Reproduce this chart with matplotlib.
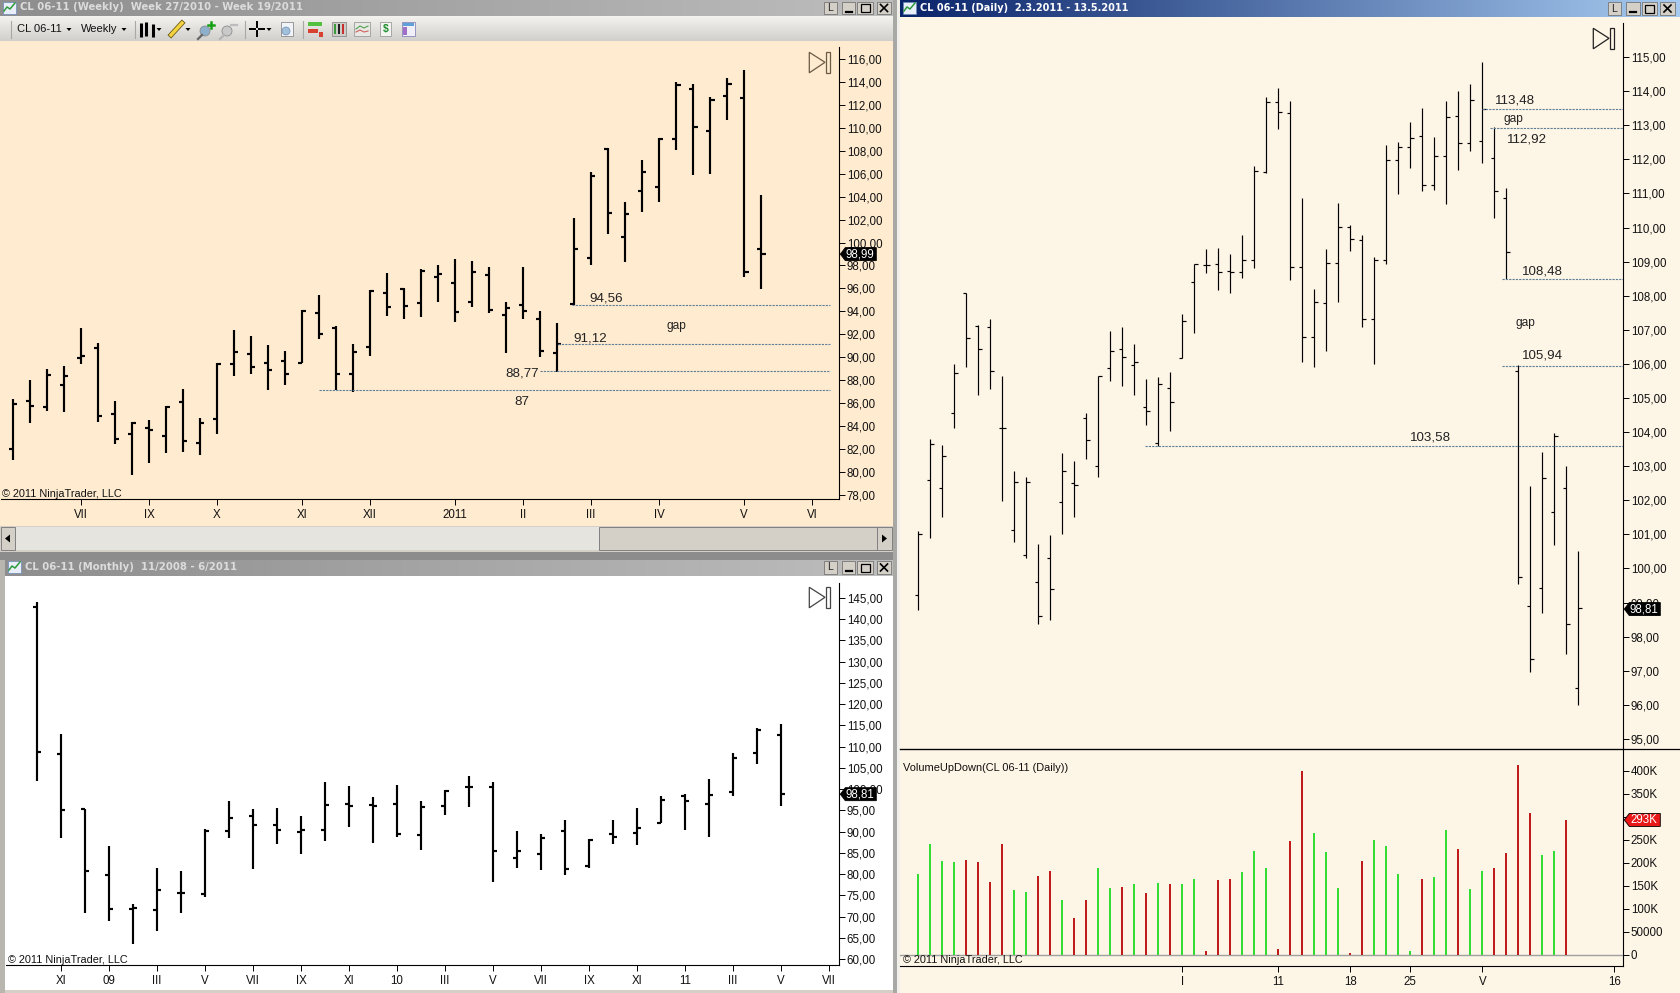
import numpy as np
import matplotlib
matplotlib.use("Agg")
import matplotlib.pyplot as plt
from matplotlib.patches import Rectangle, Polygon, Circle

plt.rcParams['font.family'] = ['Liberation Sans', 'DejaVu Sans']

W, H = 1680, 993

# ================= WEEKLY DATA =================
wk_open = [81.99, 86.18, 85.65, 87.57, 89.93, 90.80, 85.04, 83.30, 83.82, 83.12, 86.09, 82.51, 84.61, 89.40, 90.27,
           89.49, 89.66, 89.49, 93.85, 92.57, 88.53, 90.88, 95.59, 95.94, 94.72, 96.99, 96.50, 94.81, 97.19, 93.68,
           94.55, 93.33, 90.36, 94.63, 98.64, 108.15, 100.47, 104.48, 104.83, 109.02, 113.38, 109.72, 112.77, 112.59, 99.42]
wk_high = [86.32, 88.00, 88.97, 89.23, 92.54, 91.23, 86.18, 84.34, 84.52, 85.74, 87.22, 84.69, 89.49, 92.37, 91.84,
           91.06, 90.54, 94.11, 95.42, 92.72, 91.15, 95.86, 97.34, 96.03, 97.70, 98.00, 98.56, 98.39, 97.87, 94.81,
           97.90, 94.02, 92.98, 102.13, 106.11, 108.23, 103.52, 107.19, 109.10, 113.99, 113.81, 112.68, 114.34, 115.04, 104.13]
wk_low = [81.03, 84.26, 85.30, 85.22, 89.40, 84.34, 82.43, 79.72, 80.77, 81.64, 81.73, 81.47, 83.30, 88.36, 88.53,
          87.13, 87.57, 89.49, 91.58, 87.13, 86.96, 90.10, 93.59, 93.33, 93.50, 94.80, 93.10, 94.40, 93.82, 90.36,
          93.33, 90.01, 88.73, 94.55, 98.03, 100.73, 98.29, 102.65, 103.52, 108.06, 105.88, 105.97, 110.67, 97.02, 95.94]
wk_close = [85.91, 85.74, 88.44, 88.36, 90.10, 84.87, 82.86, 84.26, 83.65, 85.62, 82.69, 84.26, 89.40, 90.45, 89.14,
            88.88, 88.53, 94.05, 92.02, 88.53, 90.45, 95.77, 94.37, 94.46, 97.50, 97.25, 93.97, 97.45, 94.11, 94.29,
            94.02, 90.54, 91.15, 99.42, 105.82, 102.56, 102.48, 106.14, 109.02, 113.73, 110.06, 112.42, 113.81, 97.40, 98.99]
wk_yticks = list(range(78, 118, 2))
wk_xticks = [4, 8, 12, 17, 21, 26, 30, 34, 38, 43, 47]
wk_xlabels = ['VII', 'IX', 'X', 'XI', 'XII', '2011', 'II', 'III', 'IV', 'V', 'VI']
wk_levels = [87.1, 88.77, 91.12, 94.56]
wk_level_start = [18, 31, 32.05, 32.86]
wk_level_end = 48.06

# ================= MONTHLY DATA =================
mo_open = [142.88, 108.27, 95.32, 79.77, 71.77, 71.53, 75.54, 75.30, 90.13, 93.67, 91.55, 89.90, 90.37, 96.49, 96.26,
           96.49, 89.19, 96.02, 100.50, 100.50, 83.78, 84.72, 90.13, 81.89, 89.43, 89.66, 92.02, 98.38, 96.49, 99.32, 108.50, 112.74]
mo_high = [144.06, 112.98, 95.32, 86.60, 72.95, 81.42, 80.72, 90.61, 97.20, 95.32, 95.55, 93.67, 101.67, 100.73, 98.14,
           100.97, 97.20, 99.79, 103.09, 101.67, 90.13, 89.43, 92.73, 88.17, 92.73, 95.55, 98.38, 98.77, 102.38, 108.50, 114.47, 115.33]
mo_low = [101.91, 88.49, 70.83, 68.94, 63.53, 66.59, 70.83, 74.59, 88.49, 81.19, 87.07, 84.72, 87.78, 91.08, 87.31,
          88.72, 85.66, 93.90, 95.79, 78.13, 81.42, 80.95, 79.77, 81.42, 87.07, 86.84, 91.94, 90.37, 88.72, 98.38, 105.91, 96.02]
mo_close = [108.74, 95.08, 80.72, 71.77, 72.00, 76.24, 75.54, 90.13, 93.20, 91.55, 90.37, 90.37, 96.26, 96.02, 96.02,
            89.43, 95.79, 99.56, 100.50, 85.43, 85.43, 88.57, 81.19, 88.02, 88.72, 90.84, 97.43, 97.20, 98.61, 107.33, 113.92, 98.81]
mo_yticks = list(range(60, 150, 5))
mo_xticks = [1, 3, 5, 7, 9, 11, 13, 15, 17, 19, 21, 23, 25, 27, 29, 31, 33]
mo_xlabels = ['XI', '09', 'III', 'V', 'VII', 'IX', 'XI', '10', 'III', 'V', 'VII', 'IX', 'XI', '11', 'III', 'V', 'VII']

# ================= DAILY DATA =================
d_open = [99.22, 102.59, 102.35, 104.55, 108.07, 107.11, 107.07, 104.11, 101.12, 100.41, 99.59, 100.30, 101.94, 102.50,
          104.40, 103.02, 105.87, 106.43, 105.96, 104.75, 103.69, 105.28, 106.16, 108.41, 108.89, 108.92, 108.74, 108.71,
          109.04, 111.63, 113.67, 113.35, 108.83, 106.78, 107.80, 108.95, 110.01, 109.63, 107.31, 109.06, 111.97, 112.36,
          112.68, 111.24, 112.10, 113.26, 112.47, 112.53, 112.03, 110.88, 105.79, 98.89, 99.42, 101.67, 102.35, 96.48]
d_high = [101.10, 103.80, 103.62, 106.00, 108.07, 107.13, 107.31, 105.64, 102.86, 102.68, 100.72, 100.98, 103.39, 103.15,
          104.55, 105.66, 106.96, 107.08, 106.58, 105.56, 105.61, 105.76, 107.46, 108.92, 109.37, 109.40, 109.22, 109.78,
          111.80, 113.83, 114.09, 113.71, 110.86, 108.19, 109.37, 110.72, 110.07, 109.78, 109.13, 112.42, 112.51, 113.09,
          113.50, 112.65, 113.71, 114.00, 114.21, 114.85, 112.95, 111.16, 105.96, 102.42, 103.41, 103.97, 103.00, 100.51]
d_low = [98.78, 100.89, 101.51, 104.12, 105.92, 105.09, 105.27, 101.99, 100.78, 100.31, 98.37, 98.49, 101.01, 101.51,
         103.21, 102.68, 105.50, 105.35, 105.09, 104.21, 103.59, 104.03, 106.16, 106.90, 108.66, 108.17, 108.08, 108.52,
         108.81, 111.59, 112.89, 108.46, 106.05, 105.91, 106.38, 107.81, 109.31, 107.08, 106.00, 108.93, 110.98, 111.74,
         111.07, 111.10, 110.69, 111.68, 112.24, 111.89, 110.28, 108.48, 99.54, 96.96, 98.69, 100.69, 97.49, 96.00]
d_close = [101.01, 103.65, 103.29, 105.72, 106.75, 106.43, 105.79, 104.11, 102.53, 102.55, 98.60, 99.39, 102.85, 102.44,
           103.76, 105.64, 106.37, 106.19, 106.05, 104.61, 105.40, 104.87, 107.25, 108.92, 108.89, 108.71, 108.71, 109.04,
           111.65, 113.67, 113.38, 108.85, 106.80, 107.81, 108.95, 110.01, 109.66, 107.31, 109.06, 111.97, 112.36, 112.64,
           111.24, 112.10, 113.23, 112.47, 113.74, 113.49, 111.06, 109.27, 99.74, 97.34, 102.64, 103.89, 98.36, 98.83]
d_yticks = list(range(95, 116))
d_xticks = [22, 30, 36, 41, 47, 58]
d_xlabels = ['I', '11', '18', '25', 'V', '16']
d_levels = [113.48, 112.92, 108.48, 105.94, 103.58]
d_level_start = [47, 47.67, 48.67, 48.67, 18.9]
d_level_end = 58.75

# volume in thousands, 1 = up (green), 0 = down (red)
volume = [175, 241, 204, 201, 206, 201, 158, 241, 141, 136, 171, 182, 119, 80, 119, 188, 145, 147, 154, 134, 156, 154,
          154, 164, 8, 162, 164, 180, 225, 188, 12, 247, 399, 264, 223, 145, 3, 204, 249, 236, 175, 8, 164, 169, 271,
          230, 143, 182, 188, 221, 412, 308, 217, 225, 293]
vol_up = [1, 1, 1, 1, 0, 0, 0, 0, 1, 1, 0, 0, 1, 0, 0, 1, 1, 0, 1, 0, 1, 0, 1, 1, 0, 0, 0, 1, 1, 1, 0, 0, 0, 1, 1, 1,
          0, 0, 1, 1, 1, 1, 0, 1, 1, 0, 1, 1, 0, 0, 0, 0, 1, 1, 0]
vol_yticks = [0, 50, 100, 150, 200, 250, 300, 350, 400]
vol_ylabels = ['0', '50000', '100K', '150K', '200K', '250K', '', '350K', '400K']

WEEKLY_BG = '#FFEBD0'
DAILY_BG = '#FDF5E6'
LEVEL_COLOR = '#5d7f98'

fig = plt.figure(figsize=(W / 100, H / 100), dpi=100, facecolor='#d4d0c8')


def px_axes(left, top, right, bottom, zorder=1):
    return fig.add_axes([left / W, 1 - bottom / H, (right - left) / W, (bottom - top) / H], zorder=zorder)


# full-figure layers, coordinates are screen pixels
bg = px_axes(0, 0, W, H, zorder=0)
fg = px_axes(0, 0, W, H, zorder=5)
for a in (bg, fg):
    a.set_xlim(0, W)
    a.set_ylim(H, 0)
    a.axis('off')
fg.patch.set_alpha(0)


def gradient(x0, y0, x1, y1, c0, c1, vertical=False):
    c0 = np.array(matplotlib.colors.to_rgb(c0))
    c1 = np.array(matplotlib.colors.to_rgb(c1))
    t = np.linspace(0, 1, 128)
    img = np.outer(t, c1) + np.outer(1 - t, c0)
    img = img[:, None, :] if vertical else img[None, :, :]
    bg.imshow(img, extent=(x0, x1, y1, y0), aspect='auto', zorder=1, interpolation='bilinear')
    bg.set_xlim(0, W)
    bg.set_ylim(H, 0)


def rect(ax, x0, y0, x1, y1, fc, ec='none', lw=0.7, zorder=2):
    ax.add_patch(Rectangle((x0, y0), x1 - x0, y1 - y0, facecolor=fc, edgecolor=ec, linewidth=lw, zorder=zorder))


def ohlc(ax, o, h, l, c, tick, lw):
    x = np.arange(len(o))
    ax.vlines(x, l, h, color='black', linewidth=lw, capstyle='butt')
    ax.hlines(o, x - tick, x, color='black', linewidth=lw)
    ax.hlines(c, x, x + tick, color='black', linewidth=lw)


def style_axes(ax, xlim, ylim, xticks, xlabels, yticks, ylabels, ticklen=4.6):
    ax.set_xlim(*xlim)
    ax.set_ylim(*ylim)
    ax.patch.set_alpha(0)
    for s in ('top', 'left'):
        ax.spines[s].set_visible(False)
    for s in ('right', 'bottom'):
        ax.spines[s].set_linewidth(0.8)
    ax.yaxis.tick_right()
    ax.set_yticks(yticks)
    ax.set_yticklabels(ylabels, fontsize=8.3, color='#111111')
    ax.set_xticks(xticks)
    ax.set_xticklabels(xlabels, fontsize=8.3, color='#111111')
    ax.tick_params(axis='y', length=ticklen, width=0.7, pad=0.8)
    ax.tick_params(axis='x', length=ticklen, width=0.7, pad=2.5)


def comma(ticks):
    return [f"{t},00" for t in ticks]


def flag(ax, value, label, fc='black', ec='black'):
    # price marker sitting on the axis, drawn in screen pixels
    pt = fg.transData.inverted().transform(ax.transData.transform((ax.get_xlim()[1], value)))
    x, y = pt
    fg.add_patch(Polygon([(x + 1, y), (x + 6, y - 6.5), (x + 37, y - 6.5), (x + 37, y + 6.5), (x + 6, y + 6.5)],
                         facecolor=fc, edgecolor=ec, linewidth=0.6, zorder=6))
    fg.text(x + 21, y, label, color='white', fontsize=8.3, ha='center', va='center', zorder=7)


def play_icon(x, y, color):
    fg.add_patch(Polygon([(x, y), (x, y + 20.5), (x + 15.7, y + 10)], facecolor='none', edgecolor=color, linewidth=0.9))
    rect(fg, x + 17, y, x + 20.4, y + 20.5, 'none', color, 0.9)


def win_buttons(x, y):
    names = ['L', '_', 'box', 'X']
    for (x0, x1), n in zip(x, names):
        rect(bg, x0, y, x1, y + 12.5, '#d4d0c8', '#666666', 0.5, zorder=3)
        cx = (x0 + x1) / 2
        if n == 'L':
            bg.text(cx, y + 6.5, 'L', fontsize=7.5, ha='center', va='center', color='#222222', zorder=4)
        elif n == '_':
            bg.plot([cx - 3, cx + 3], [y + 10, y + 10], color='black', lw=1.6, zorder=4)
        elif n == 'box':
            rect(bg, cx - 4.5, y + 2.5, cx + 4.5, y + 10.5, 'none', 'black', 0.9, zorder=4)
        else:
            bg.plot([cx - 3.5, cx + 3.5], [y + 3, y + 10], color='black', lw=1.2, zorder=4)
            bg.plot([cx - 3.5, cx + 3.5], [y + 10, y + 3], color='black', lw=1.2, zorder=4)


def title_icon(x, y):
    rect(bg, x, y, x + 13, y + 12, '#e8eefa', '#6a8ab8', 0.5, zorder=3)
    bg.plot([x + 1, x + 4, x + 7, x + 12], [y + 9, y + 5, y + 7, y + 1], color='#2f9a3a', lw=1.1, zorder=4)


# ================= WINDOW CHROME =================
rect(bg, 0, 41, 893, 526, WEEKLY_BG, zorder=1)
rect(bg, 5, 576, 893, 990, 'white', zorder=1)
rect(bg, 900, 17, W, H, DAILY_BG, zorder=1)
rect(bg, 0, 552, 897, 560, '#8c8c8c', zorder=1)
rect(bg, 893, 0, 897, 993, '#a8a8a4', zorder=1)
rect(bg, 897, 0, 900, 993, '#f0efe9', zorder=1)
rect(bg, 0, 560, 5, 993, '#b8b6ae', zorder=1)

gradient(0, 0, 893, 16, '#8e8e8e', '#bdbdbd')
gradient(5, 560, 893, 576, '#8e8e8e', '#bdbdbd')
gradient(900, 0, W, 17, '#0a246a', '#a6caf0')
gradient(0, 16, 893, 41, '#f4f3f0', '#d0cfcb', vertical=True)

title_font = dict(fontsize=7.25, fontweight='bold', family='DejaVu Sans', va='center', zorder=4)
bg.text(20, 7.5, 'CL 06-11 (Weekly)  Week 27/2010 - Week 19/2011', color='#dcdcdc', **title_font)
bg.text(25, 567.5, 'CL 06-11 (Monthly)  11/2008 - 6/2011', color='#dcdcdc', **title_font)
bg.text(920, 8, 'CL 06-11 (Daily)  2.3.2011 - 13.5.2011', color='white', fontsize=7.05, fontweight='bold',
        family='DejaVu Sans', va='center', zorder=4)
title_icon(3, 2)
title_icon(8, 561)
title_icon(903, 2)
win_buttons([(824, 837), (842, 855), (857, 873), (877, 891)], 1.5)
win_buttons([(824, 837), (842, 855), (857, 873), (877, 891)], 561)
win_buttons([(1608, 1621), (1626, 1640), (1642, 1657), (1660, 1675)], 2)

# toolbar
for sx in (11, 135, 245, 303):
    bg.plot([sx, sx], [21, 38], color='#a8a8a4', lw=0.8, zorder=3)
bg.text(17, 29, 'CL 06-11', fontsize=8.0, va='center', color='#111111', zorder=4)
bg.text(81, 29, 'Weekly', fontsize=8.0, va='center', color='#111111', zorder=4)
for ax_x in (69, 124, 159, 188, 269):
    bg.add_patch(Polygon([(ax_x - 2.5, 28), (ax_x + 2.5, 28), (ax_x, 31)], facecolor='black', zorder=4))
for ix, (y0, y1) in zip((141, 146, 153), ((23, 37), (22, 36), (24, 37))):
    bg.plot([ix, ix], [y0, y1], color='black', lw=2.2, zorder=4, solid_capstyle='butt')
bg.plot([171, 182], [35, 23], color='#6b5a10', lw=3.6, zorder=4)
bg.plot([171, 182], [35, 23], color='#f5d442', lw=2.4, zorder=4)
for cx, cy, col in ((205, 31, '#8fb0cc'), (227, 31, '#c9c9c9')):
    bg.add_patch(Circle((cx, cy), 5, facecolor=col, edgecolor='#8c8c8c', linewidth=0.6, zorder=4))
    bg.plot([cx - 3, cx - 7], [cy + 4, cy + 8], color='#666666' if cx < 220 else '#b5b5b5', lw=1.6, zorder=4)
bg.plot([208, 214], [25, 25], color='#16a016', lw=1.8, zorder=5)
bg.plot([211, 211], [22, 28], color='#16a016', lw=1.8, zorder=5)
bg.plot([231, 237], [25, 25], color='#bcbcbc', lw=1.6, zorder=5)
for seg in (((250, 255), (29, 29)), ((259, 264), (29, 29)), ((257, 257), (22, 27)), ((257, 257), (31, 36))):
    bg.plot(seg[0], seg[1], color='black', lw=1.4, zorder=4)
rect(bg, 281, 22, 293, 36, '#f0f3f8', '#8c8c8c', 0.6, zorder=3)
bg.add_patch(Circle((286, 31), 4, facecolor='#a0c0dc', edgecolor='#7090b0', linewidth=0.5, zorder=4))
rect(bg, 308, 22, 322, 26, '#55c040', zorder=4)
rect(bg, 308, 29, 318, 33, '#d84030', zorder=4)
rect(bg, 319, 32, 323, 37, '#d84030', zorder=4)
rect(bg, 332, 22, 346, 36, '#ccccc8', '#8c8c8c', 0.6, zorder=3)
for kx, col in ((335, '#3a9a3a'), (339, '#222222'), (343, '#c83030')):
    rect(bg, kx - 1.2, 24, kx + 1.2, 34, col, zorder=4)
rect(bg, 354, 22, 370, 36, '#e8e8e4', '#9c9c9c', 0.6, zorder=3)
bg.plot([356, 360, 364, 368], [29, 26, 28, 26], color='#50a050', lw=0.8, zorder=4)
bg.plot([356, 360, 364, 368], [32, 30, 32, 31], color='#d06060', lw=0.8, zorder=4)
rect(bg, 380, 22, 391, 36, '#f4f4f0', '#9c9c9c', 0.6, zorder=3)
bg.text(385.5, 29, '$', fontsize=7.5, fontweight='bold', color='#209030', ha='center', va='center', zorder=4)
rect(bg, 402, 22, 415, 36, '#f0eef6', '#8888b8', 0.6, zorder=3)
rect(bg, 403, 23, 414, 25.5, '#60a0d8', zorder=4)
rect(bg, 403, 27, 406.5, 35, '#a070c8', zorder=4)

# scrollbar
rect(bg, 0, 526, 893, 552, '#d4d0c8', zorder=1)
rect(bg, 15, 527, 599, 550, '#e6e4de', zorder=2)
rect(bg, 599, 527, 877, 550, '#d4d0c8', '#808080', 0.7, zorder=3)
rect(bg, 1, 527, 15, 550, '#d4d0c8', '#808080', 0.7, zorder=3)
rect(bg, 877, 527, 892, 550, '#d4d0c8', '#808080', 0.7, zorder=3)
bg.add_patch(Polygon([(10, 534.5), (10, 542.5), (5, 538.5)], facecolor='black', zorder=4))
bg.add_patch(Polygon([(882, 534.5), (882, 542.5), (887, 538.5)], facecolor='black', zorder=4))

# ================= WEEKLY CHART =================
ax_w = px_axes(1, 47, 839.3, 499.3, zorder=2)
style_axes(ax_w, (-0.706, 48.6), (77.61, 117.05), wk_xticks, wk_xlabels, wk_yticks, comma(wk_yticks))
ohlc(ax_w, wk_open, wk_high, wk_low, wk_close, 0.26, 1.55)
ax_w.hlines(wk_levels, wk_level_start, wk_level_end, color=LEVEL_COLOR, linewidth=0.8, linestyle=(0, (2, 1)), zorder=3)
for tx, ty, s in ((34.9, 95.16, '94,56'), (33.94, 91.65, '91,12'), (29.94, 88.62, '88,77'), (29.94, 86.09, '87')):
    ax_w.text(tx, ty, s, fontsize=9.6, ha='center', va='center', color='#222222')
ax_w.text(39, 92.7, 'gap', fontsize=8.6, ha='center', va='center', color='#222222')
ax_w.text(0.0015, 0.012, '\u00a9 2011 NinjaTrader, LLC', fontsize=7.8, transform=ax_w.transAxes, va='center', color='#111111')
flag(ax_w, 98.99, '98,99')
play_icon(809.3, 52.3, '#6b5a45')

# ================= MONTHLY CHART =================
ax_m = px_axes(6, 582.7, 839.3, 965.3, zorder=2)
style_axes(ax_m, (-1.29, 33.43), (58.52, 148.6), mo_xticks, mo_xlabels, mo_yticks, comma(mo_yticks))
ohlc(ax_m, mo_open, mo_high, mo_low, mo_close, 0.17, 1.55)
ax_m.text(0.0025, 0.0135, '\u00a9 2011 NinjaTrader, LLC', fontsize=7.8, transform=ax_m.transAxes, va='center', color='#111111')
flag(ax_m, 98.81, '98,81')
play_icon(809.3, 587.3, '#444444')

# ================= DAILY CHART =================
ax_d = px_axes(900, 23, 1623.3, 748.5, zorder=2)
style_axes(ax_d, (-1.53, 58.75), (94.72, 116.0), [], [], d_yticks, comma(d_yticks))
ohlc(ax_d, d_open, d_high, d_low, d_close, 0.27, 0.85)
ax_d.hlines(d_levels, d_level_start, d_level_end, color=LEVEL_COLOR, linewidth=0.8, linestyle=(0, (2, 1)), zorder=3)
for tx, ty, s in ((49.75, 113.74, '113,48'), (50.7, 112.57, '112,92'), (52.0, 108.72, '108,48'),
                  (52.0, 106.26, '105,94'), (42.7, 103.83, '103,58')):
    ax_d.text(tx, ty, s, fontsize=9.6, ha='center', va='center', color='#222222')
ax_d.text(49.6, 113.18, 'gap', fontsize=8.6, ha='center', va='center', color='#222222')
ax_d.text(50.6, 107.2, 'gap', fontsize=8.6, ha='center', va='center', color='#222222')
flag(ax_d, 98.81, '98,81')
play_icon(1593.3, 28.3, '#222222')
bg.plot([900, W], [748.5, 748.5], color='black', lw=0.9, zorder=3)

# ================= VOLUME PANEL =================
ax_v = px_axes(900, 748.5, 1623.3, 966, zorder=2)
style_axes(ax_v, (-1.53, 58.75), (-24.6, 448.3), d_xticks, d_xlabels, vol_yticks, vol_ylabels)
vol_colors = ['#33dd33' if u else '#c01c1c' for u in vol_up]
ax_v.bar(np.arange(len(volume)), volume, width=0.17, color=vol_colors, zorder=3)
ax_v.axhline(0, color='#a0a0a0', linewidth=1.0, zorder=2)
ax_v.text(0.004, 0.935, 'VolumeUpDown(CL 06-11 (Daily))', fontsize=7.9, transform=ax_v.transAxes, va='top', color='#111111')
ax_v.text(0.004, 0.027, '\u00a9 2011 NinjaTrader, LLC', fontsize=7.8, transform=ax_v.transAxes, va='center', color='#111111')
flag(ax_v, 293, '293K', fc='#e81818', ec='black')

fig.savefig('out.png', dpi=100, facecolor=fig.get_facecolor())
